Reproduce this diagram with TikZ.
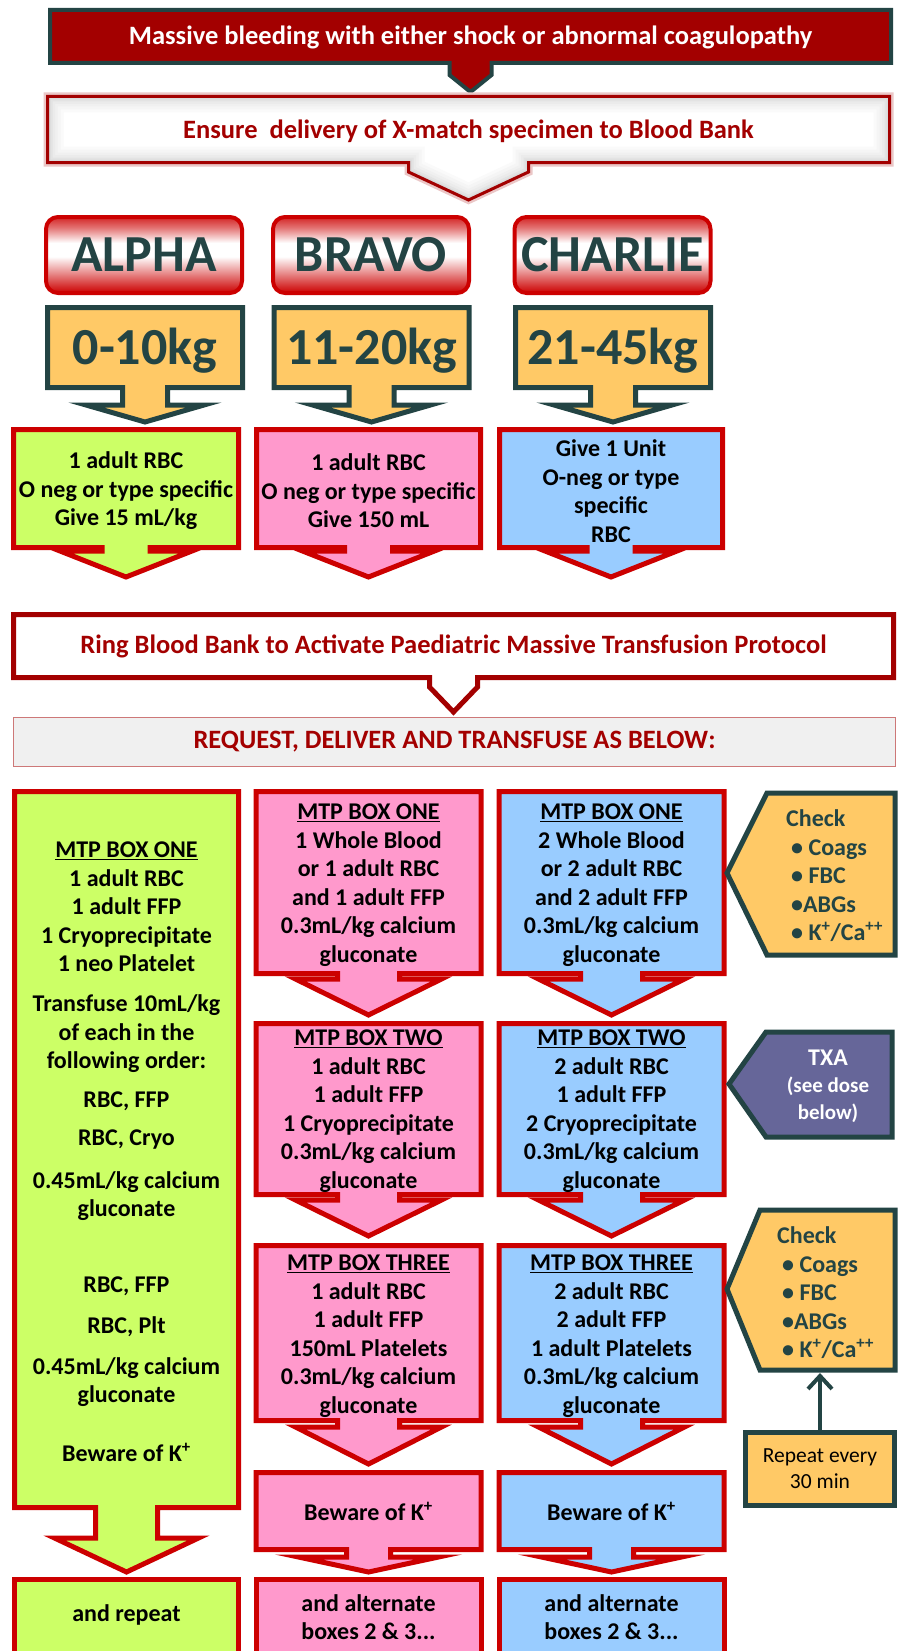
\documentclass[tikz,border=0pt]{standalone}
\usepackage{fontspec}
\setmainfont{Carlito}
\usetikzlibrary{arrows.meta}

\definecolor{titlered}{RGB}{163,0,0}
\definecolor{wine}{RGB}{163,0,0}
\definecolor{slate}{RGB}{35,68,68}
\definecolor{boxred}{RGB}{204,0,0}
\definecolor{amberfill}{RGB}{255,201,102}
\definecolor{limefill}{RGB}{204,255,102}
\definecolor{rosefill}{RGB}{255,153,204}
\definecolor{skyfill}{RGB}{153,204,255}
\definecolor{txapurple}{RGB}{102,102,153}
\definecolor{paleband}{RGB}{240,240,240}
\definecolor{bandline}{RGB}{205,120,120}

\pgfdeclareverticalshading{namefade}{100bp}{color(0bp)=(boxred); color(25bp)=(boxred); color(30bp)=(boxred!80!white); color(49bp)=(white); color(58bp)=(white); color(68bp)=(boxred!55!white); color(75bp)=(boxred!85!white); color(100bp)=(boxred!85!white)}

% box with a down arrow under it: style, left, right, top, bottom,
% stem half width, stem foot, head half width, tip
\newcommand{\arrowbox}[9]{%
  \path[#1] (#2,#4) -- (#3,#4) -- (#3,#5)
    -- ({(#2+#3)/2+#6},#5) -- ({(#2+#3)/2+#6},#7)
    -- ({(#2+#3)/2+#8},#7) -- ({(#2+#3)/2},#9)
    -- ({(#2+#3)/2-#8},#7) -- ({(#2+#3)/2-#6},#7)
    -- ({(#2+#3)/2-#6},#5) -- (#2,#5) -- cycle;}

\begin{document}
\begin{tikzpicture}
  [x=1pt, y=-1pt,
    txt/.style={font=\bfseries\fontsize{24}{28.5}\selectfont, align=center, inner sep=0pt},
    head/.style={font=\bfseries\fontsize{26.5}{30}\selectfont, inner sep=0pt},
    kg/.style={font=\bfseries\fontsize{52}{60}\selectfont, text=slate, inner sep=0pt},
    namebox/.style={kg, rounded corners=12pt, draw=boxred, line width=4pt,
      shade, shading=namefade, minimum width=196pt, minimum height=76pt},
    titlebox/.style={fill=titlered, draw=slate, line width=4pt},
    limebox/.style={fill=limefill, draw=boxred, line width=5pt},
    rosebox/.style={fill=rosefill, draw=boxred, line width=5pt},
    skybox/.style={fill=skyfill, draw=boxred, line width=5pt},
    amberbox/.style={fill=amberfill, draw=slate, line width=5pt},
    txabox/.style={fill=txapurple, draw=slate, line width=5pt},
    checktxt/.style={txt, align=left, text=slate, anchor=west},
    repeatbox/.style={fill=amberfill, draw=slate, line width=5pt, align=center,
      minimum width=149pt, minimum height=73pt, inner sep=0pt,
      font=\fontsize{21.5}{26}\selectfont},
    uparrow/.style={draw=slate, line width=4pt, -{Straight Barb[length=13pt,width=24pt]}}
  ]
\useasboundingbox (0,0) rectangle (898,1651);
\clip (0,0) rectangle (898,1651);
\fill[white] (0,0) rectangle (898,1651);

% Top banner
\arrowbox{titlebox}{50}{891}{10}{63}{21}{75}{21}{92}
\node[head, text=white] (bleed) at (470.5,37) {Massive bleeding with either shock or abnormal coagulopathy};

% Specimen box with soft inner shade
\arrowbox{draw=wine!22, line width=8pt}{47.5}{889.5}{96.5}{162.5}{60}{172}{60}{200}
\begin{scope}
  \arrowbox{clip}{47.5}{889.5}{96.5}{162.5}{60}{172}{60}{200}
  \fill[white] (40,90) rectangle (900,210);
  \foreach \w/\c in {32/2, 26/4, 20/6, 15/8, 10/11, 6/14, 3/18} {
    \arrowbox{draw=black!\c, line width=\w pt}{47.5}{889.5}{96.5}{162.5}{60}{172}{60}{200}
  }
\end{scope}
\arrowbox{draw=wine, line width=3pt}{47.5}{889.5}{96.5}{162.5}{60}{172}{60}{200}
\node[head, text=wine] (specimen) at (468.5,131) {Ensure\ \ delivery of X-match specimen to Blood Bank};

% Name boxes
\foreach \n/\x in {ALPHA/144, BRAVO/371, CHARLIE/612.5}
  \node[namebox] (name-\n) at (\x,255) {\n};

% Weight boxes
\foreach \w/\x [count=\i] in {0-10kg/145, 11-20kg/371.5, 21-45kg/613} {
  \arrowbox{amberbox}{\x-97.5}{\x+97.5}{307.5}{387.5}{22.5}{405}{59}{422}
  \node[kg] (kg-\i) at (\x,351) {\w};
}

% First unit
\arrowbox{limebox}{13.5}{238.5}{429.5}{547.5}{24}{551}{66}{577}
\arrowbox{rosebox}{256.5}{480.5}{429.5}{547.5}{24}{551}{66}{577}
\arrowbox{skybox}{499.5}{722.5}{429.5}{547.5}{24}{551}{66}{577}
\node[txt] (dose-1) at (126,491) {1 adult RBC\\O neg or type specific\\Give 15 mL/kg};
\node[txt] (dose-2) at (368.5,491) {1 adult RBC\\O neg or type specific\\Give 150 mL};
\node[txt] (dose-3) at (611,491) {Give 1 Unit\\O-neg or type\\specific\\RBC};

% Activate protocol
\arrowbox{draw=wine, fill=white, line width=5pt}{13.5}{893.5}{614.5}{677.5}{24}{687}{24}{712}
\node[head, text=wine] (ring) at (453.5,646) {Ring Blood Bank to Activate Paediatric Massive Transfusion Protocol};
\node[head, text=wine, fill=paleband, draw=bandline, line width=1.2pt,
  minimum width=882pt, minimum height=49pt] (request) at (454.5,742)
  {REQUEST, DELIVER AND TRANSFUSE AS BELOW:};

% MTP columns
\arrowbox{limebox}{14.5}{238.5}{791.5}{1507.5}{31}{1538}{72}{1572}
\draw[limebox] (14.5,1579.5) rectangle (238.5,1680);
\foreach \s/\x in {rosebox/368.5, skybox/611.5} {
  \arrowbox{\s}{\x-112.5}{\x+112.5}{791.5}{973.5}{31}{979}{73}{1015}
  \arrowbox{\s}{\x-112.5}{\x+112.5}{1023.5}{1194.5}{31}{1200}{73}{1236}
  \arrowbox{\s}{\x-112.5}{\x+112.5}{1245.5}{1420.5}{31}{1427}{73}{1464}
  \arrowbox{\s}{\x-112.5}{\x+112.5}{1472.5}{1549.5}{22}{1557}{70}{1572}
  \draw[\s] (\x-112.5,1579.5) rectangle (\x+112.5,1680);
}

% Neonate column
\node[txt] (lime-1) at (126.5,907) {\underline{MTP BOX ONE}\\1 adult RBC\\1 adult FFP\\1 Cryoprecipitate\\1 neo Platelet};
\node[txt] (lime-2) at (126.5,1034) {Transfuse 10mL/kg\\of each in the\\following order:};
\node[txt] (lime-3) at (126.5,1101) {RBC, FFP};
\node[txt] (lime-4) at (126.5,1140) {RBC, Cryo};
\node[txt] (lime-5) at (126.5,1196) {0.45mL/kg calcium\\gluconate};
\node[txt] (lime-6) at (126.5,1286) {RBC, FFP};
\node[txt] (lime-7) at (126.5,1327) {RBC, Plt};
\node[txt] (lime-8) at (126.5,1382) {0.45mL/kg calcium\\gluconate};
\node[txt] (lime-9) at (126.5,1452) {Beware of K\textsuperscript{+}};
\node[txt] (lime-10) at (126.5,1615) {and repeat};

% Bravo column
\node[txt] (rose-1) at (368.5,885) {\underline{MTP BOX ONE}\\1 Whole Blood\\or 1 adult RBC\\and 1 adult FFP\\0.3mL/kg calcium\\gluconate};
\node[txt] (rose-2) at (368.5,1111) {\underline{MTP BOX TWO}\\1 adult RBC\\1 adult FFP\\1 Cryoprecipitate\\0.3mL/kg calcium\\gluconate};
\node[txt] (rose-3) at (368.5,1336) {\underline{MTP BOX THREE}\\1 adult RBC\\1 adult FFP\\150mL Platelets\\0.3mL/kg calcium\\gluconate};
\node[txt] (rose-4) at (368.5,1511) {Beware of K\textsuperscript{+}};
\node[txt] (rose-5) at (368.5,1617) {and alternate\\boxes 2 \& 3...};

% Charlie column
\node[txt] (sky-1) at (611.5,885) {\underline{MTP BOX ONE}\\2 Whole Blood\\or 2 adult RBC\\and 2 adult FFP\\0.3mL/kg calcium\\gluconate};
\node[txt] (sky-2) at (611.5,1111) {\underline{MTP BOX TWO}\\2 adult RBC\\1 adult FFP\\2 Cryoprecipitate\\0.3mL/kg calcium\\gluconate};
\node[txt] (sky-3) at (611.5,1336) {\underline{MTP BOX THREE}\\2 adult RBC\\2 adult FFP\\1 adult Platelets\\0.3mL/kg calcium\\gluconate};
\node[txt] (sky-4) at (611.5,1511) {Beware of K\textsuperscript{+}};
\node[txt] (sky-5) at (611.5,1617) {and alternate\\boxes 2 \& 3...};

% Side notes
\draw[amberbox] (727,873) -- (767,793) -- (895,793) -- (895,955) -- (767,955) -- cycle;
\node[checktxt] (check-1) at (786,876) {Check\\\hspace*{5pt}• Coags\\\hspace*{5pt}• FBC\\\hspace*{5pt}•ABGs\\\hspace*{5pt}• K\textsuperscript{+}/Ca\textsuperscript{++}};
\draw[txabox] (729,1084) -- (766,1032) -- (892,1032) -- (892,1137) -- (766,1137) -- cycle;
\node[txt, text=white, font=\bfseries\fontsize{21}{27}\selectfont] (txa) at (828,1086)
  {{\fontsize{24}{27}\selectfont TXA}\\(see dose\\below)};
\draw[amberbox] (727,1289) -- (760,1210) -- (895,1210) -- (895,1370) -- (760,1370) -- cycle;
\node[checktxt] (check-2) at (777,1293) {Check\\\hspace*{5pt}• Coags\\\hspace*{5pt}• FBC\\\hspace*{5pt}•ABGs\\\hspace*{5pt}• K\textsuperscript{+}/Ca\textsuperscript{++}};
\coordinate (check-2-foot) at (820,1373);
\node[repeatbox] (repeat) at (820,1469) {Repeat every\\30 min};
\draw[uparrow] (repeat.north) -- (check-2-foot);
\end{tikzpicture}
\end{document}
